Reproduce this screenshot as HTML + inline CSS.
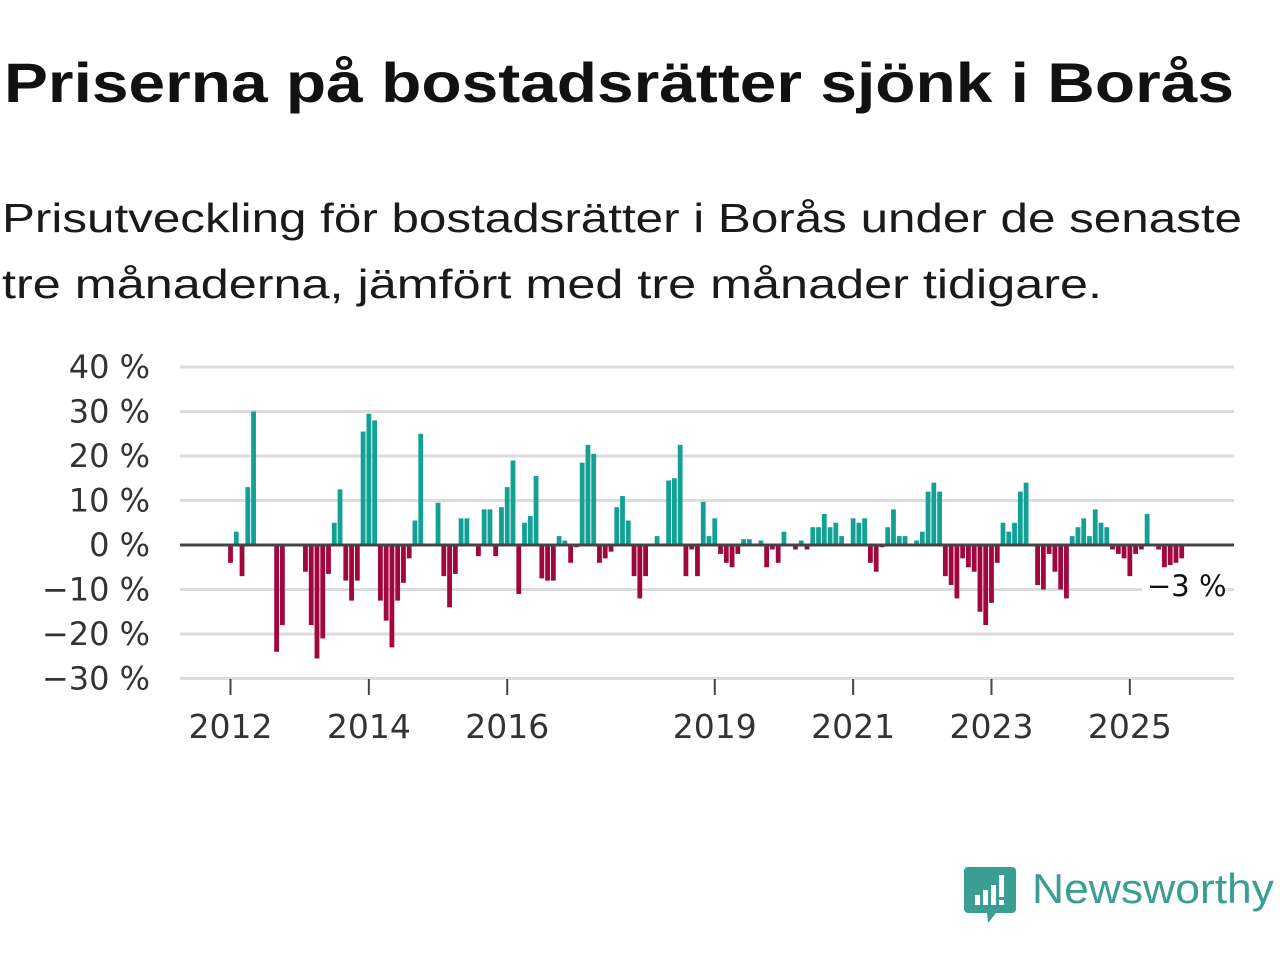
<!DOCTYPE html>
<html><head><meta charset="utf-8"><style>
html,body{margin:0;padding:0;background:#fff;width:1280px;height:960px;overflow:hidden}
svg{display:block;font-family:"Liberation Sans","DejaVu Sans",sans-serif}
</style></head><body>
<svg id="chart" width="1280" height="960" viewBox="0 0 1280 960">
<text x="4" y="102" font-size="56" font-weight="bold" fill="#111" textLength="1230" lengthAdjust="spacingAndGlyphs">Priserna på bostadsrätter sjönk i Borås</text>
<text x="2" y="232" font-size="41" fill="#1a1a1a" textLength="1240" lengthAdjust="spacingAndGlyphs">Prisutveckling för bostadsrätter i Borås under de senaste</text>
<text x="2" y="298" font-size="41" fill="#1a1a1a" textLength="1100" lengthAdjust="spacingAndGlyphs">tre månaderna, jämfört med tre månader tidigare.</text>
<g id="grid"></g><g id="bars"></g><g id="axes"></g>
<g>
<path d="M968 867 h44 a4 4 0 0 1 4 4 v38 a4 4 0 0 1 -4 4 h-16 l-8 10 l-1 -10 h-19 a4 4 0 0 1 -4 -4 v-38 a4 4 0 0 1 4 -4z" fill="#3b9e92"/>
<rect x="975" y="895" width="5" height="10" fill="#fff"/><rect x="983" y="890" width="5" height="15" fill="#fff"/><rect x="991" y="885" width="5" height="20" fill="#fff"/><rect x="999" y="875" width="5" height="22" fill="#fff"/><rect x="999" y="900" width="5" height="5" fill="#fff"/>
<text x="1032" y="903" font-size="42" fill="#3b9e92" textLength="242" lengthAdjust="spacingAndGlyphs">Newsworthy</text>
</g>
</svg>
<script>
const values = [-4,3,-7,13,30,0,0,0,-24,-18,0,0,0,-6,-18,-25.5,-21,-6.5,5,12.5,-8,-12.5,-8,25.5,29.5,28,-12.5,-17,-23,-12.5,-8.5,-3,5.5,25,0,0,9.5,-7,-14,-6.5,6,6,0,-2.5,8,8,-2.5,8.5,13,19,-11,5,6.5,15.5,-7.5,-8,-8,2,1,-4,-0.5,18.5,22.5,20.5,-4,-3,-1.5,8.5,11,5.5,-7,-12,-7,0,2,0,14.5,15,22.5,-7,-1,-7,9.7,2,6,-2,-4,-5,-2,1.3,1.3,0,1,-5,-1,-4,3,0,-1,1,-1,4,4,7,4,5,2,0,6,5,6,-4,-6,-0.5,4,8,2,2,0,1,3,12,14,12,-7,-9,-12,-3,-5,-6,-15,-18,-13,-4,5,3,5,12,14,0,-9,-10,-2,-6,-10,-12,2,4,6,2,8,5,4,-1,-2,-3,-7,-2,-1,7,0,-1,-5,-4.5,-4,-3];
const yTicks = [40,30,20,10,0,-10,-20,-30];
const xTickIdx = [0,24,48,84,108,132,156];
const xTickLabels = ["2012","2014","2016","2019","2021","2023","2025"];
const lastLabel = "\u22123 %";
const NS="http://www.w3.org/2000/svg";
const y0=545, pxPer=4.45, x0=230.5, step=5.765;
const yS=v=>y0-v*pxPer, xS=i=>x0+i*step;
const grid=document.getElementById('grid'), bars=document.getElementById('bars'), axes=document.getElementById('axes');
function mk(tag,attrs,parent){const e=document.createElementNS(NS,tag);for(const k in attrs)e.setAttribute(k,attrs[k]);parent.appendChild(e);return e;}
yTicks.forEach(t=>{
  if(t!==0){const l=mk('line',{x1:180,x2:1234,y1:yS(t),y2:yS(t),stroke:'#dcdcdc','stroke-width':3},grid);
  
  }
  const tx=mk('text',{x:150,y:yS(t)+11,'font-size':32,fill:'#333','text-anchor':'end','font-family':'"DejaVu Sans",sans-serif'},axes);
  tx.textContent=(t<0?'\u2212'+(-t):t)+' %';
  
  
});
values.forEach((v,i)=>{
  if(v===0)return;
  const r=mk('rect',{x:xS(i)-2.4,width:4.8,y:Math.min(yS(v),y0),height:Math.abs(v)*pxPer,fill:v>0?'#13a196':'#a1063e'},bars);
  
  
});
const zl=mk('line',{x1:180,x2:1234,y1:y0,y2:y0,stroke:'#444','stroke-width':3},axes);


xTickIdx.forEach((idx,k)=>{
  const l=mk('line',{x1:xS(idx),x2:xS(idx),y1:679,y2:695,stroke:'#444','stroke-width':2},axes);
  
  
  const t=mk('text',{x:xS(idx),y:738,'font-size':33,fill:'#333','text-anchor':'middle','font-family':'"DejaVu Sans",sans-serif'},axes);
  t.textContent=xTickLabels[k];
  
  
});
const bg=mk('rect',{x:1142,y:568,width:82,height:34,fill:'#fff'},axes);


const lt=mk('text',{x:1147,y:596,'font-size':29,fill:'#111','font-family':'"DejaVu Sans",sans-serif'},axes);
lt.textContent=lastLabel;


</script>
</body></html>
